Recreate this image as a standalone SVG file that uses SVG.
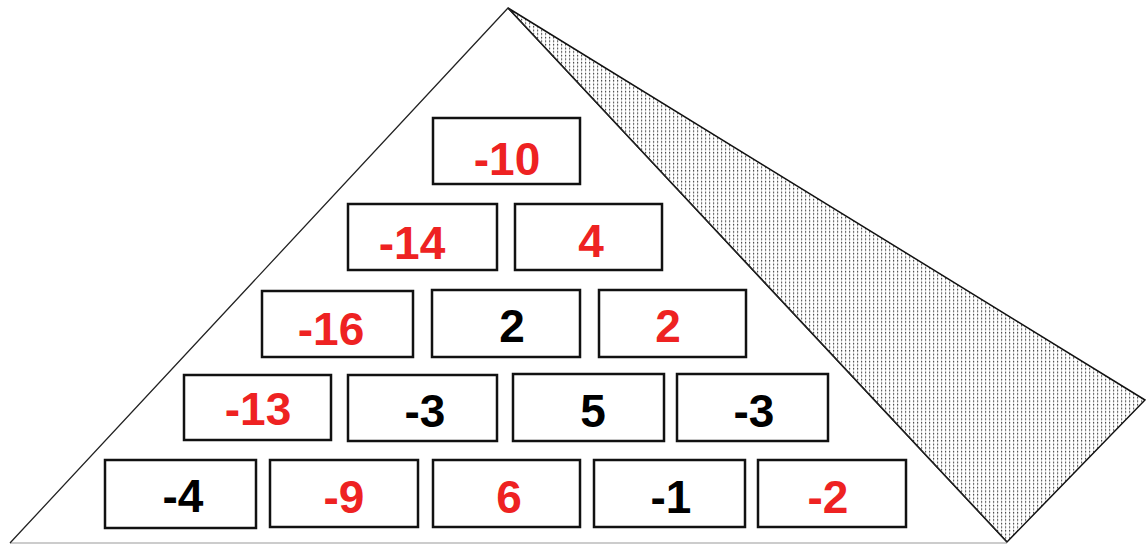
<svg xmlns="http://www.w3.org/2000/svg" width="1147" height="544" viewBox="0 0 1147 544">
<style>
.box{fill:#fff;stroke:#111;stroke-width:2.5}
.t{font-family:"Liberation Sans",Arial,sans-serif;font-weight:bold;font-size:46px;text-anchor:middle}
.r{fill:#ee2222}
.k{fill:#000}
.edge{fill:none;stroke:#222;stroke-width:1.3}
</style>
<defs>
<pattern id="dots" patternUnits="userSpaceOnUse" width="4" height="3.6">
<rect width="4" height="3.6" fill="#fff"/>
<rect x="1" y="0" width="1" height="3.6" fill="#e0e0e0"/>
<rect x="1" y="1" width="1.2" height="1.2" fill="#333"/>
</pattern>
</defs>
<rect width="1147" height="544" fill="#fff"/>
<g id="connectors">
<line x1="10" y1="543" x2="1007" y2="543" stroke="#bbb" stroke-width="1.5"/>
<polygon points="508,8 1145,400 1007,542" fill="url(#dots)" stroke="#111" stroke-width="1.5"/>
<polyline class="edge" points="10,543 508,8 1007,542"/>
</g>
<g id="n1"><rect class="box" x="433" y="118" width="147" height="66"/><text class="t r" x="507" y="175">-10</text></g>
<g id="n2"><rect class="box" x="348" y="204" width="149" height="66"/><text class="t r" x="412" y="259">-14</text></g>
<g id="n3"><rect class="box" x="515" y="204" width="147" height="66"/><text class="t r" x="591" y="257">4</text></g>
<g id="n4"><rect class="box" x="262" y="291" width="151" height="66"/><text class="t r" x="331" y="345">-16</text></g>
<g id="n5"><rect class="box" x="432" y="290" width="148" height="67"/><text class="t k" x="512" y="342">2</text></g>
<g id="n6"><rect class="box" x="599" y="290" width="147" height="67"/><text class="t r" x="668" y="342">2</text></g>
<g id="n7"><rect class="box" x="184" y="375" width="147" height="65"/><text class="t r" x="258" y="425">-13</text></g>
<g id="n8"><rect class="box" x="348" y="375" width="149" height="66"/><text class="t k" x="425" y="427">-3</text></g>
<g id="n9"><rect class="box" x="513" y="374" width="151" height="67"/><text class="t k" x="593" y="427">5</text></g>
<g id="n10"><rect class="box" x="677" y="374" width="151" height="67"/><text class="t k" x="754" y="427">-3</text></g>
<g id="n11"><rect class="box" x="105" y="460" width="151" height="68"/><text class="t k" x="183" y="512">-4</text></g>
<g id="n12"><rect class="box" x="270" y="460" width="148" height="67"/><text class="t r" x="344" y="513">-9</text></g>
<g id="n13"><rect class="box" x="433" y="460" width="147" height="67"/><text class="t r" x="509" y="513">6</text></g>
<g id="n14"><rect class="box" x="594" y="460" width="151" height="67"/><text class="t k" x="671" y="513">-1</text></g>
<g id="n15"><rect class="box" x="758" y="460" width="148" height="67"/><text class="t r" x="828" y="513">-2</text></g>
</svg>
